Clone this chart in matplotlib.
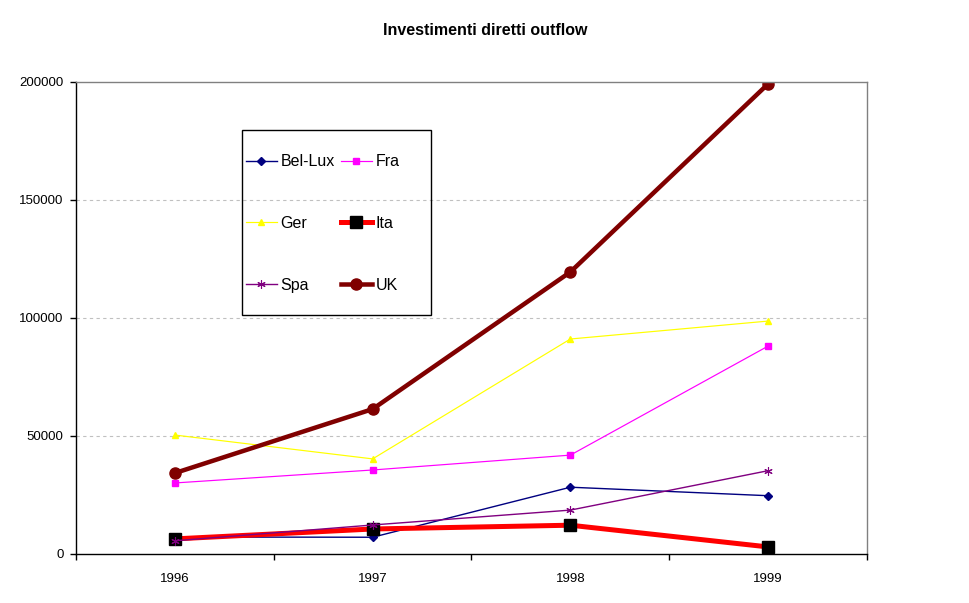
import matplotlib
matplotlib.use('Agg')
import matplotlib.pyplot as plt
from matplotlib.patches import Rectangle

plt.rcParams['font.family'] = ['Liberation Sans', 'DejaVu Sans']

# data
years = ['1996', '1997', '1998', '1999']
bel_lux = [7200, 7100, 28300, 24700]
fra = [30100, 35600, 41900, 88100]
ger = [50400, 40300, 91100, 98700]
ita = [6400, 10600, 12200, 3000]
spa = [5600, 12300, 18600, 35300]
uk = [34300, 61400, 119500, 199200]
y_ticks = [0, 50000, 100000, 150000, 200000]

fig = plt.figure(figsize=(9.69, 6.03), dpi=100)
ax = fig.add_axes([76/969, 1-554/603, 791/969, 472/603])

x = list(range(len(years)))
px = 0.72  # one pixel in points

h_bel, = ax.plot(x, bel_lux, color='#000080', lw=1.4*px, marker='D', ms=4, label='Bel-Lux')
h_fra, = ax.plot(x, fra, color='#FF00FF', lw=1.2*px, marker='s', ms=4.5, label='Fra')
h_ger, = ax.plot(x, ger, color='#FFFF00', lw=1.2*px, marker='^', ms=5, label='Ger')
h_ita, = ax.plot(x, ita, color='#FF0000', lw=5*px, marker='s', ms=8,
                 mfc='black', mec='black', label='Ita')
h_spa, = ax.plot(x, spa, color='#800080', lw=1.4*px, marker=(6, 2, 0), ms=6,
                 mec='#800080', mew=0.8, label='Spa')
h_uk, = ax.plot(x, uk, color='#800000', lw=4.5*px, marker='o', ms=8, label='UK')

ax.set_xlim(-0.5, len(years) - 0.5)
ax.set_ylim(0, 200000)

# category axis: ticks between categories, labels centred
ax.set_xticks([i - 0.5 for i in range(len(years) + 1)])
ax.set_xticklabels([])
ax.set_xticks(x, minor=True)
ax.set_xticklabels(years, minor=True, fontsize=9.5)
ax.tick_params(axis='x', which='major', direction='out', length=4, width=1, color='black')
ax.tick_params(axis='x', which='minor', length=0, pad=14)

ax.set_yticks(y_ticks)
ax.set_yticklabels([str(v) for v in y_ticks], fontsize=9.5)
ax.tick_params(axis='y', direction='out', length=4, width=1, pad=5)

for v in y_ticks[1:-1]:
    ax.axhline(v, color='#C0C0C0', lw=0.8, ls=(0, (3, 3)), zorder=0)

ax.spines['left'].set_color('black')
ax.spines['bottom'].set_color('black')
ax.spines['top'].set_color('#808080')
ax.spines['right'].set_color('#808080')
for s in ax.spines.values():
    s.set_linewidth(1)

fig.suptitle('Investimenti diretti outflow', x=485/969, y=1-23/603,
             fontsize=11.5, fontweight='bold', va='top')

# legend with its own square frame
fig.add_artist(Rectangle((242/969, 1-315/603), 189/969, 185/603,
                         transform=fig.transFigure, fill=False,
                         edgecolor='black', lw=1))
fig.legend([h_bel, h_ger, h_spa, h_fra, h_ita, h_uk],
           ['Bel-Lux', 'Ger', 'Spa', 'Fra', 'Ita', 'UK'],
           ncol=2, loc='center left', bbox_to_anchor=(235/969, 1-223.5/603),
           frameon=False, fontsize=11.5, handlelength=1.9, handletextpad=0.25,
           columnspacing=0.4, labelspacing=2.92, borderpad=0.2)

fig.savefig('out.png', dpi=100)
